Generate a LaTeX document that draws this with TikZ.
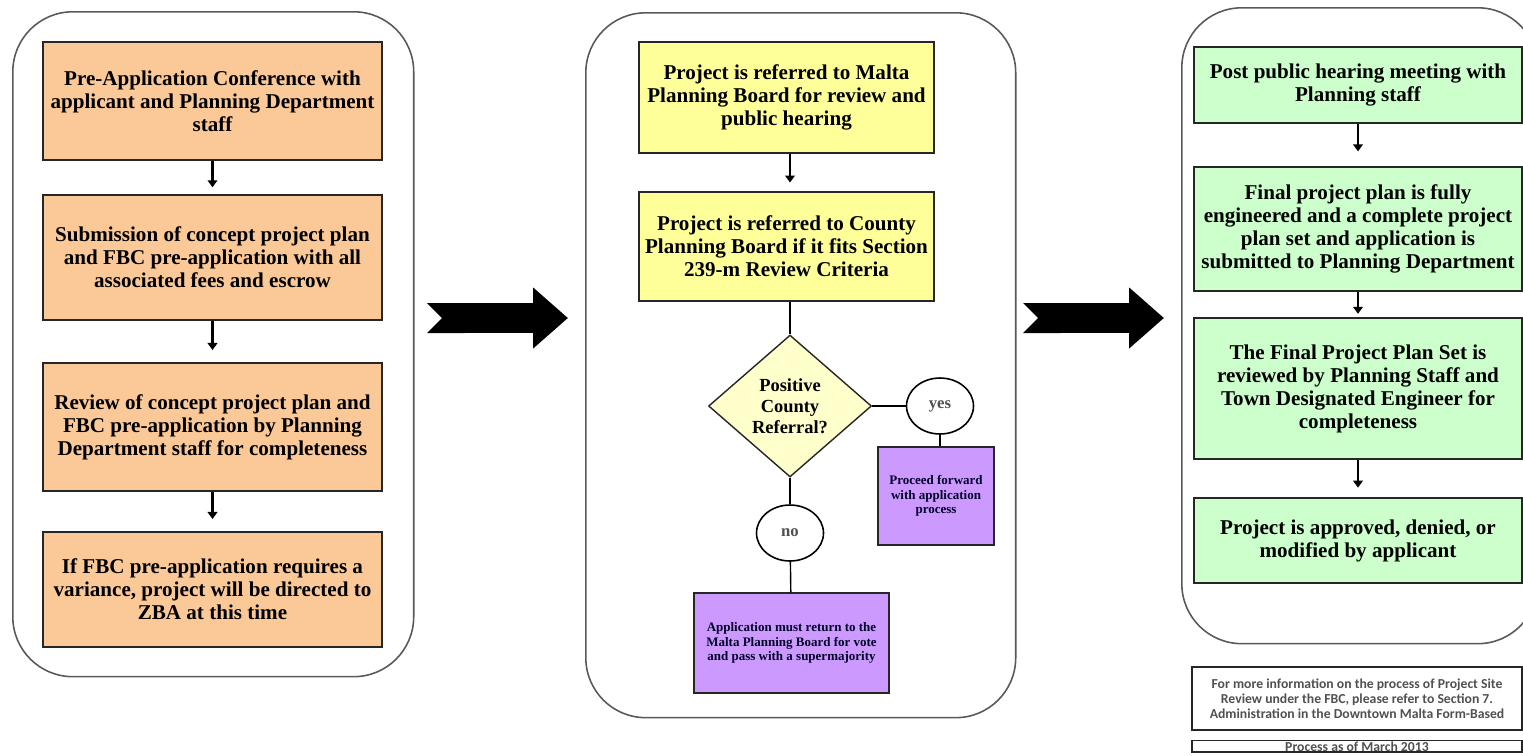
\documentclass[tikz,border=0pt]{standalone}
\usepackage{fontspec}
\setmainfont{Liberation Serif}
\newfontfamily\notefont{Carlito}
\usepackage{xcolor}
\usetikzlibrary{arrows.meta,shapes.geometric,positioning}
\definecolor{peach}{RGB}{251,201,151}
\definecolor{lemon}{RGB}{255,255,153}
\definecolor{cream}{RGB}{255,255,204}
\definecolor{lilac}{RGB}{204,153,255}
\definecolor{mint}{RGB}{204,255,204}
\definecolor{inkgray}{RGB}{80,80,80}

\begin{document}
\begin{tikzpicture}[x=0.02cm, y=-0.02cm,
		panel/.style={draw=black!65, line width=0.9pt, rounded corners=1.2cm, anchor=north west, inner sep=0pt},
		stepbox/.style={draw=black!85, line width=0.8pt, align=center, inner sep=1pt, font=\fontsize{12}{13.1}\selectfont\bfseries},
		orangebox/.style={stepbox, fill=peach, minimum width=6.78cm},
		yellowbox/.style={stepbox, fill=lemon, minimum width=5.9cm},
		greenbox/.style={stepbox, fill=mint, minimum width=6.56cm},
		lilacbox/.style={stepbox, fill=lilac, font=\fontsize{7.4}{8.3}\selectfont\bfseries, text=black!85!blue},
		decision/.style={diamond, draw=black!85, line width=0.8pt, fill=cream, aspect=1.15, inner sep=0pt, minimum width=3.26cm, minimum height=2.84cm, align=center, font=\fontsize{10.5}{11.9}\selectfont\bfseries},
		answer/.style={ellipse, draw=black, line width=0.9pt, fill=white, inner sep=0pt, minimum width=1.34cm, minimum height=1.12cm, font=\fontsize{9.5}{11}\selectfont\bfseries, text=inkgray},
		notebox/.style={draw=black!85, line width=0.8pt, align=center, minimum width=6.6cm, inner sep=1pt, font=\notefont\fontsize{7.8}{8.6}\selectfont\bfseries, text=inkgray},
		flow/.style={line width=1.4pt, -{Triangle[length=4pt,width=5.5pt]}},
		link/.style={line width=0.8pt},
		bigarrow/.style={line width=0.6cm, {Triangle Cap[reversed]}-{Triangle[length=0.7cm,width=1.18cm]}}
	]
	\useasboundingbox (0,0) rectangle (1523,755);
	\node[panel, minimum width=8.02cm, minimum height=13.3cm] (p1) at (12,11) {};
	\node[panel, minimum width=8.6cm, minimum height=14.1cm] (p2) at (585,12) {};
	\node[panel, minimum width=7.12cm, minimum height=12.72cm] (p3) at (1181,7) {};

	\node[orangebox, minimum height=2.36cm] (pre) at (212.5,101) {Pre-Application Conference with\\applicant and Planning Department\\staff};
	\node[orangebox, minimum height=2.5cm] (sub) at (212.5,257.5) {Submission of concept project plan\\and FBC pre-application with all\\associated fees and escrow};
	\node[orangebox, minimum height=2.56cm] (rev) at (212.5,427) {Review of concept project plan and\\FBC pre-application by Planning\\Department staff for completeness};
	\node[orangebox, minimum height=2.3cm] (zba) at (212.5,589.5) {If FBC pre-application requires a\\variance, project will be directed to\\ZBA at this time};

	\node[yellowbox, minimum height=2.22cm] (malta) at (786.5,97.5) {Project is referred to Malta\\Planning Board for review and\\public hearing};
	\node[yellowbox, minimum height=2.18cm] (county) at (786.5,246.5) {Project is referred to County\\Planning Board if it fits Section\\239-m Review Criteria};
	\node[decision] (dec) at (790,406) {Positive\\County\\Referral?};
	\node[answer] (yes) at (940,406) {yes};
	\node[answer] (no) at (790,533) {no};
	\node[lilacbox, minimum width=2.32cm, minimum height=1.96cm] (fwd) at (936,496) {Proceed forward\\with application\\process};
	\node[lilacbox, minimum width=3.9cm, minimum height=2cm] (back) at (791.5,643) {Application must return to the\\Malta Planning Board for vote\\and pass with a supermajority};

	\node[greenbox, minimum height=1.52cm] (post) at (1358,85) {Post public hearing meeting with\\Planning staff};
	\node[greenbox, minimum height=2.48cm] (final) at (1358,229) {Final project plan is fully\\engineered and a complete project\\plan set and application is\\submitted to Planning Department};
	\node[greenbox, minimum height=2.82cm] (check) at (1358,388.5) {The Final Project Plan Set is\\reviewed by Planning Staff and\\Town Designated Engineer for\\completeness};
	\node[greenbox, minimum height=1.7cm] (decide) at (1358,540.5) {Project is approved, denied, or\\modified by applicant};

	\node[notebox, minimum height=1.26cm] (info) at (1357,698.5) {For more information on the process of Project Site\\Review under the FBC, please refer to Section 7.\\Administration in the Downtown Malta Form-Based};
	\node[notebox, anchor=north, inner ysep=0.5pt] (date) at (1357,740) {Process as of March 2013};

	\coordinate (a1) at (427,318);
	\coordinate (a2) at (568,318);
	\coordinate (a3) at (1023,318);
	\coordinate (a4) at (1164,318);
	\draw[bigarrow] (a1) -- (a2);
	\draw[bigarrow] (a3) -- (a4);

	\draw[flow, shorten >=4pt] (pre) -- (sub);
	\draw[flow, shorten >=7pt] (sub) -- (rev);
	\draw[flow, shorten >=7pt] (rev) -- (zba);
	\draw[flow, shorten >=5pt] (malta.south -| dec) -- (county.north -| dec);
	\draw[link] (dec.north) -- (dec.north |- county.south);
	\draw[link] (dec) -- (yes);
	\draw[link] (yes.south) -- (yes.south |- fwd.north);
	\draw[link] (dec) -- (no);
	\draw[link] (no) -- (back);
	\draw[flow, shorten >=8.5pt] (post) -- (final);
	\draw[flow, shorten >=2pt] (final) -- (check);
	\draw[flow, shorten >=5.5pt] (check) -- (decide);
\end{tikzpicture}
\end{document}
